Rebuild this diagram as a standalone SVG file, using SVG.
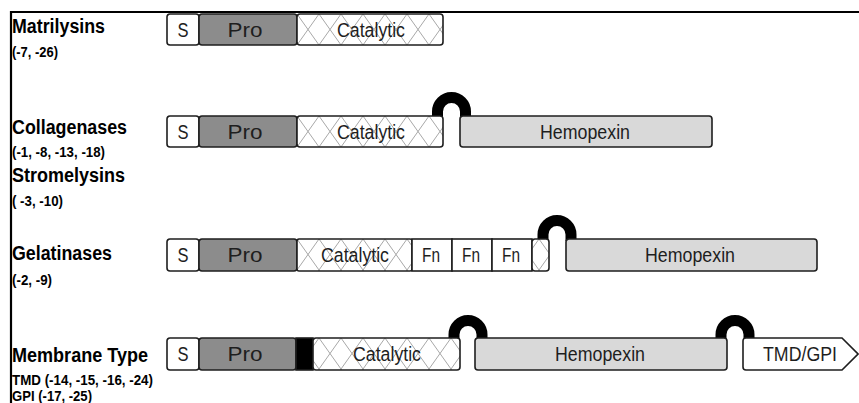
<svg xmlns="http://www.w3.org/2000/svg" width="859" height="403" viewBox="0 0 859 403">
  <defs>
    <pattern id="hatch" patternUnits="userSpaceOnUse" x="297" y="0" width="22" height="31">
      <rect width="22" height="31" fill="#ffffff"/>
      <path d="M0 0 L22 31 M22 0 L0 31" stroke="#a8a8a8" stroke-width="1"/>
    </pattern>
    <style>
      .box { stroke: #1e1e1e; stroke-width: 1.6; }
      .s { fill: #ffffff; }
      .pro { fill: #8c8c8c; }
      .cat { fill: url(#hatch); }
      .hpx { fill: #d9d9d9; }
      .fn { fill: #ffffff; }
      .tm { fill: #000000; }
      .lbl { font-family: "Liberation Sans", Arial, sans-serif; font-size: 20px; fill: #1e1e1e; text-anchor: middle; }
      .name { font-family: "Liberation Sans", Arial, sans-serif; font-size: 20px; font-weight: bold; fill: #000; }
      .sub { font-family: "Liberation Sans", Arial, sans-serif; font-size: 14px; font-weight: bold; fill: #000; }
      .hinge { fill: none; stroke: #000; stroke-width: 11; }
    </style>
  </defs>

  <rect width="859" height="403" fill="#ffffff"/>

  <!-- frame -->
  <path d="M11 403 L11 12 L859 12" fill="none" stroke="#000" stroke-width="2.2"/>

  <!-- family labels -->
  <g id="labels">
    <text class="name" x="12" y="33" textLength="93" lengthAdjust="spacingAndGlyphs">Matrilysins</text>
    <text class="sub" x="12" y="57" textLength="46" lengthAdjust="spacingAndGlyphs">(-7, -26)</text>
    <text class="name" x="12" y="134" textLength="115" lengthAdjust="spacingAndGlyphs">Collagenases</text>
    <text class="sub" x="12" y="157" textLength="93" lengthAdjust="spacingAndGlyphs">(-1, -8, -13, -18)</text>
    <text class="name" x="12" y="182" textLength="113" lengthAdjust="spacingAndGlyphs">Stromelysins</text>
    <text class="sub" x="12" y="206" textLength="51" lengthAdjust="spacingAndGlyphs">( -3, -10)</text>
    <text class="name" x="12" y="260" textLength="100" lengthAdjust="spacingAndGlyphs">Gelatinases</text>
    <text class="sub" x="12" y="285" textLength="40" lengthAdjust="spacingAndGlyphs">(-2, -9)</text>
    <text class="name" x="12" y="362" textLength="136" lengthAdjust="spacingAndGlyphs">Membrane Type</text>
    <text class="sub" x="12" y="385" textLength="141" lengthAdjust="spacingAndGlyphs">TMD (-14, -15, -16, -24)</text>
    <text class="sub" x="12" y="401" textLength="80" lengthAdjust="spacingAndGlyphs">GPI (-17, -25)</text>
  </g>

  <!-- hinge connectors -->
  <g id="connectors">
    <path class="hinge" d="M437.5 118 L437.5 111.5 A14 14 0 0 1 465.5 111.5 L465.5 118"/>
    <path class="hinge" d="M543 241 L543 234.5 A14 14 0 0 1 571 234.5 L571 241"/>
    <path class="hinge" d="M454 340 L454 334.5 A14 14 0 0 1 482 334.5 L482 340"/>
    <path class="hinge" d="M721 340 L721 334.5 A14 14 0 0 1 749 334.5 L749 340"/>
  </g>

  <!-- Matrilysins -->
  <g id="matrilysins" transform="translate(0,14)">
    <rect class="box s" x="167" y="0" width="32" height="31" rx="3"/>
    <rect class="box pro" x="199" y="0" width="98" height="31" rx="3"/>
    <rect class="box cat" x="297" y="0" width="146" height="31" rx="3"/>
    <text class="lbl" x="183" y="22.5" textLength="11" lengthAdjust="spacingAndGlyphs">S</text>
    <text class="lbl" x="245" y="22.5" textLength="35" lengthAdjust="spacingAndGlyphs">Pro</text>
    <text class="lbl" x="371" y="22.5" textLength="68" lengthAdjust="spacingAndGlyphs">Catalytic</text>
  </g>

  <!-- Collagenases / Stromelysins -->
  <g id="collagenases" transform="translate(0,116)">
    <rect class="box s" x="167" y="0" width="32" height="31" rx="3"/>
    <rect class="box pro" x="199" y="0" width="98" height="31" rx="3"/>
    <rect class="box cat" x="297" y="0" width="146" height="31" rx="3"/>
    <rect class="box hpx" x="460" y="0" width="252" height="31" rx="3"/>
    <text class="lbl" x="183" y="22.5" textLength="11" lengthAdjust="spacingAndGlyphs">S</text>
    <text class="lbl" x="245" y="22.5" textLength="35" lengthAdjust="spacingAndGlyphs">Pro</text>
    <text class="lbl" x="371" y="22.5" textLength="68" lengthAdjust="spacingAndGlyphs">Catalytic</text>
    <text class="lbl" x="585" y="22.5" textLength="90" lengthAdjust="spacingAndGlyphs">Hemopexin</text>
  </g>

  <!-- Gelatinases -->
  <g id="gelatinases" transform="translate(0,239)">
    <rect class="box s" x="167" y="0" width="32" height="32" rx="3"/>
    <rect class="box pro" x="199" y="0" width="98" height="32" rx="3"/>
    <rect class="box cat" x="297" y="0" width="115" height="32" rx="2"/>
    <rect class="box fn" x="412" y="0" width="40" height="32"/>
    <rect class="box fn" x="452" y="0" width="40" height="32"/>
    <rect class="box fn" x="492" y="0" width="40" height="32"/>
    <rect class="box cat" x="532" y="0" width="17" height="32" rx="3"/>
    <rect class="box hpx" x="566" y="0" width="251" height="32" rx="3"/>
    <text class="lbl" x="183" y="23" textLength="11" lengthAdjust="spacingAndGlyphs">S</text>
    <text class="lbl" x="245" y="23" textLength="35" lengthAdjust="spacingAndGlyphs">Pro</text>
    <text class="lbl" x="355" y="23" textLength="68" lengthAdjust="spacingAndGlyphs">Catalytic</text>
    <text class="lbl" x="431" y="23" textLength="18" lengthAdjust="spacingAndGlyphs">Fn</text>
    <text class="lbl" x="471" y="23" textLength="18" lengthAdjust="spacingAndGlyphs">Fn</text>
    <text class="lbl" x="511" y="23" textLength="18" lengthAdjust="spacingAndGlyphs">Fn</text>
    <text class="lbl" x="690" y="23" textLength="90" lengthAdjust="spacingAndGlyphs">Hemopexin</text>
  </g>

  <!-- Membrane type -->
  <g id="membrane-type" transform="translate(0,338)">
    <rect class="box s" x="167" y="0" width="32" height="32" rx="3"/>
    <rect class="box pro" x="199" y="0" width="97" height="32" rx="3"/>
    <rect class="box tm" x="296" y="0" width="17" height="32"/>
    <rect class="box cat" x="313" y="0" width="147" height="32" rx="3"/>
    <rect class="box hpx" x="475" y="0" width="252" height="32" rx="3"/>
    <path class="box s" d="M746 0 L842 0 L858 16 L842 32 L746 32 Q743 32 743 29 L743 3 Q743 0 746 0 Z"/>
    <text class="lbl" x="183" y="23" textLength="11" lengthAdjust="spacingAndGlyphs">S</text>
    <text class="lbl" x="245" y="23" textLength="35" lengthAdjust="spacingAndGlyphs">Pro</text>
    <text class="lbl" x="387" y="23" textLength="68" lengthAdjust="spacingAndGlyphs">Catalytic</text>
    <text class="lbl" x="600" y="23" textLength="90" lengthAdjust="spacingAndGlyphs">Hemopexin</text>
    <text class="lbl" x="800" y="23" textLength="74" lengthAdjust="spacingAndGlyphs">TMD/GPI</text>
  </g>
</svg>
